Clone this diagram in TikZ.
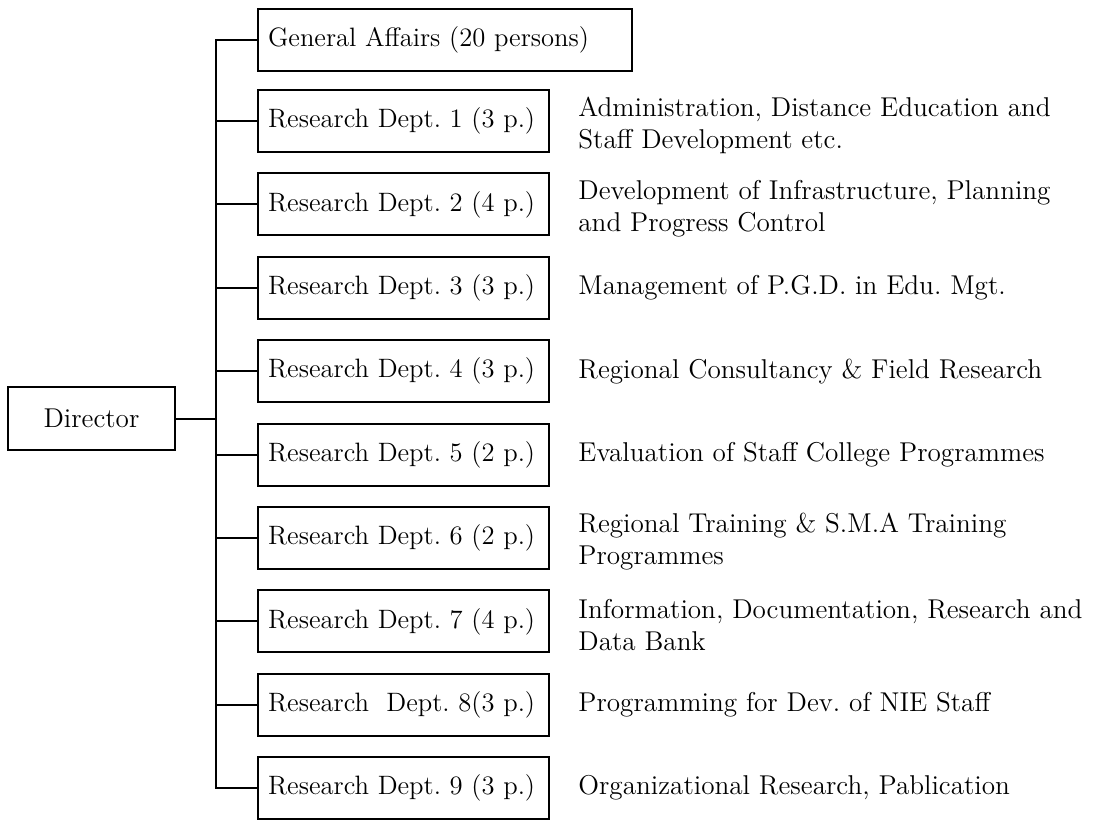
\documentclass[tikz,border=0pt]{standalone}
\frenchspacing
% box labels set flush left in a fixed width
\newcommand\unitlabel[2][135.5pt]{\makebox[#1][l]{#2}}
\begin{document}
\begin{tikzpicture}[x=0.5pt,y=-0.5pt,
  every node/.style={font=\fontsize{13.6}{16}\selectfont},
  unitbox/.style={draw,line width=1pt,anchor=west,minimum height=31pt,
    inner xsep=5pt,font=\fontsize{13.3}{16}\selectfont},
  headbox/.style={draw,line width=1pt,minimum width=83.5pt,minimum height=31.5pt},
  remit/.style={anchor=west,align=left,inner sep=0pt},
  link/.style={line width=1pt}]
\useasboundingbox (0,0) rectangle (1103,820);

% head of the institute
\node[headbox] (dir) at (91.5,418.5) {Director};

% units
\node[unitbox] (ga) at (257,40) {\unitlabel[177pt]{General Affairs (20 persons)}};
\node[unitbox] (d1) at (257,121)   {\unitlabel{Research Dept. 1 (3 p.)}};
\node[unitbox] (d2) at (257,204.4) {\unitlabel{Research Dept. 2 (4 p.)}};
\node[unitbox] (d3) at (257,287.8) {\unitlabel{Research Dept. 3 (3 p.)}};
\node[unitbox] (d4) at (257,371.2) {\unitlabel{Research Dept. 4 (3 p.)}};
\node[unitbox] (d5) at (257,454.6) {\unitlabel{Research Dept. 5 (2 p.)}};
\node[unitbox] (d6) at (257,538)   {\unitlabel{Research Dept. 6 (2 p.)}};
\node[unitbox] (d7) at (257,621.4) {\unitlabel{Research Dept. 7 (4 p.)}};
\node[unitbox] (d8) at (257,704.8) {\unitlabel{Research\ \ Dept. 8(3 p.)}};
\node[unitbox] (d9) at (257,788.2) {\unitlabel{Research Dept. 9 (3 p.)}};

% remits of the research departments
\node[remit] (r1) at (578,125) {Administration, Distance Education and\\Staff Development etc.};
\node[remit] (r2) at (578,208.4) {Development of Infrastructure, Planning\\and Progress Control};
\node[remit] (r3) at (578,287.8) {Management of P.G.D. in Edu. Mgt.};
\node[remit] (r4) at (578,371.2) {Regional Consultancy \& Field Research};
\node[remit] (r5) at (578,454.6) {Evaluation of Staff College Programmes};
\node[remit] (r6) at (578,542) {Regional Training \& S.M.A Training\\Programmes};
\node[remit] (r7) at (578,625.4) {Information, Documentation, Research and\\Data Bank};
\node[remit] (r8) at (578,704.8) {Programming for Dev. of NIE Staff};
\node[remit] (r9) at (578,788.2) {Organizational Research, Pablication};

% trunk line of the chart
\coordinate (tx) at (216,0);
\draw[link] (ga.west) -- (ga.west -| tx) -- (d9.west -| tx) -- (d9.west);
\draw[link] (dir.east) -- (dir.east -| tx);
\foreach \u in {d1,d2,d3,d4,d5,d6,d7,d8}
  \draw[link] (\u.west -| tx) -- (\u.west);
\end{tikzpicture}
\end{document}
